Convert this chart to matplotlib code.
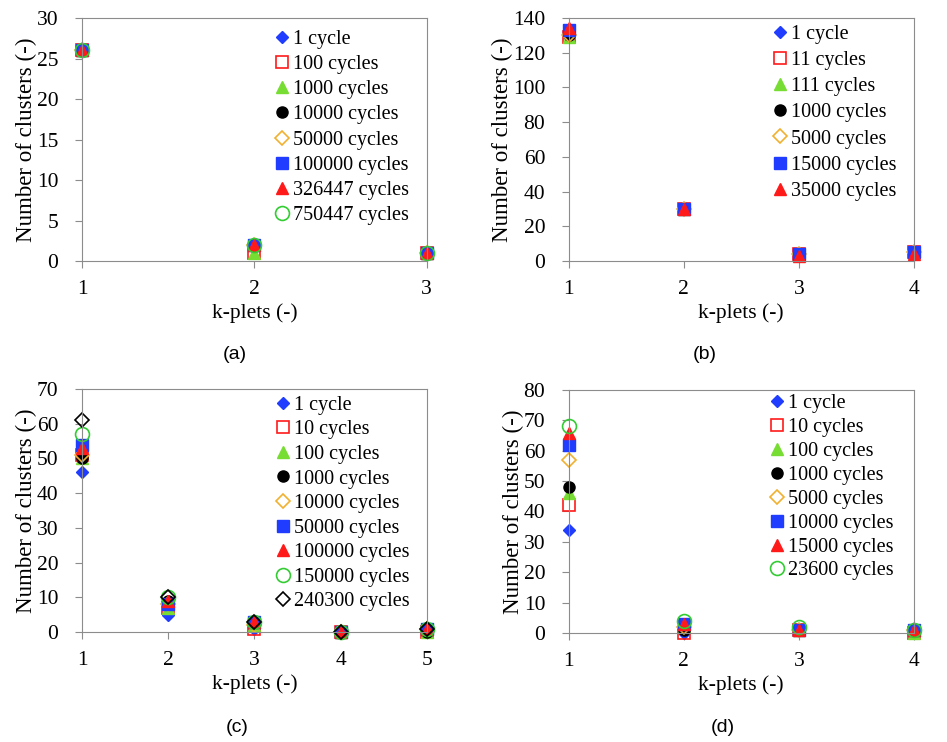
import numpy as np
import matplotlib.pyplot as plt

plt.rcParams['font.family'] = ['Liberation Serif', 'DejaVu Serif']

# marker styles per cycle series (fill colour, edge colour, marker)
BLUE = '#1f3cff'
RED = '#ff1a1a'
LGREEN = '#77dd33'
ORANGE = '#f0b030'
GREEN = '#33cc33'

style_1 = dict(marker='D', color=BLUE, mec=BLUE, ms=6)
style_sq = dict(marker='s', color='none', mec=RED, ms=9, mew=1.2)
style_tri = dict(marker='^', color=LGREEN, mec=LGREEN, ms=8)
style_blk = dict(marker='o', color='black', mec='black', ms=8)
style_od = dict(marker='D', color='none', mec=ORANGE, ms=7, mew=1.2)
style_bsq = dict(marker='s', color=BLUE, mec=BLUE, ms=9)
style_rtri = dict(marker='^', color=RED, mec=RED, ms=8)
style_oc = dict(marker='o', color='none', mec=GREEN, ms=10, mew=1.2)
style_kd = dict(marker='D', color='none', mec='black', ms=7, mew=1.2)

# (a)
k_a = [1, 2, 3]
labels_a = ['1 cycle', '100 cycles', '1000 cycles', '10000 cycles', '50000 cycles',
            '100000 cycles', '326447 cycles', '750447 cycles']
vals_a = [[26, 2, 1], [26, 1, 1], [26, 1, 1], [26, 2, 1], [26, 2, 1],
          [26, 2, 1], [26, 2, 1], [26, 2, 1]]
styles_a = [style_1, style_sq, style_tri, style_blk, style_od, style_bsq, style_rtri, style_oc]

# (b)
k_b = [1, 2, 3, 4]
labels_b = ['1 cycle', '11 cycles', '111 cycles', '1000 cycles', '5000 cycles',
            '15000 cycles', '35000 cycles']
vals_b = [[130, 30, 4, 5], [129, 30, 4, 5], [129, 30, 4, 5], [130, 30, 4, 5],
          [130, 30, 4, 5], [133, 30, 4, 5], [134, 30, 3, 4]]
styles_b = [style_1, style_sq, style_tri, style_blk, style_od, style_bsq, style_rtri]

# (c)
k_c = [1, 2, 3, 4, 5]
labels_c = ['1 cycle', '10 cycles', '100 cycles', '1000 cycles', '10000 cycles',
            '50000 cycles', '100000 cycles', '150000 cycles', '240300 cycles']
vals_c = [[46, 5, 1, 0, 0], [51, 7, 1, 0, 0], [50, 7, 2, 0, 0], [50, 9, 3, 0, 0],
          [51, 8, 2, 0, 1], [54, 8, 3, 0, 1], [53, 9, 3, 0, 1], [57, 10, 3, 0, 1],
          [61, 10, 3, 0, 1]]
styles_c = [style_1, style_sq, style_tri, style_blk, style_od, style_bsq, style_rtri,
            style_oc, style_kd]

# (d)
k_d = [1, 2, 3, 4]
labels_d = ['1 cycle', '10 cycles', '100 cycles', '1000 cycles', '5000 cycles',
            '10000 cycles', '15000 cycles', '23600 cycles']
vals_d = [[34, 0, 1, 1], [42, 0, 1, 0], [46, 2, 1, 0], [48, 1, 1, 1], [57, 2, 1, 1],
          [62, 3, 1, 1], [66, 3, 1, 1], [68, 4, 2, 1]]
styles_d = [style_1, style_sq, style_tri, style_blk, style_od, style_bsq, style_rtri, style_oc]

fig = plt.figure(figsize=(9.47, 7.42), dpi=100)

panels = [
    ([0.0866, 0.6482, 0.364, 0.3275], k_a, vals_a, labels_a, styles_a, 30, 5, (0.557, 0.951), 0.30, '(a)', (0.248, 0.522)),
    ([0.6008, 0.6482, 0.364, 0.3275], k_b, vals_b, labels_b, styles_b, 140, 20, (0.588, 0.972), 0.35, '(b)', (0.744, 0.522)),
    ([0.0866, 0.1482, 0.364, 0.3275], k_c, vals_c, labels_c, styles_c, 70, 10, (0.559, 0.972), 0.27, '(c)', (0.250, 0.019)),
    ([0.6008, 0.1469, 0.364, 0.3275], k_d, vals_d, labels_d, styles_d, 80, 10, (0.580, 0.984), 0.24, '(d)', (0.763, 0.019)),
]

for rect, k, vals, labels, styles, ymax, ystep, leg_pos, lsp, cap, cap_pos in panels:
    ax = fig.add_axes(rect)
    for v, lab, st in zip(vals, labels, styles):
        ax.plot(k, v, linestyle='none', label=lab, clip_on=False, **st)
    ax.set_xlim(k[0], k[-1])
    ax.set_ylim(0, ymax)
    ax.set_xticks(k)
    ax.set_yticks(np.arange(0, ymax + 1, ystep))
    for s in ax.spines.values():
        s.set_color('#8c8c8c')
    ax.tick_params(direction='out', length=5, color='#8c8c8c', labelsize=15.5)
    ax.tick_params(axis='x', pad=9)
    ax.tick_params(axis='y', pad=12)
    ax.set_xlabel('k-plets (-)', fontsize=15.5, labelpad=3)
    ax.set_ylabel('Number of clusters (-)', fontsize=16.5, labelpad=0)
    ax.legend(loc='upper left', bbox_to_anchor=leg_pos, frameon=False, fontsize=14.5,
              borderpad=0, borderaxespad=0, handlelength=0.8, handletextpad=0.15,
              labelspacing=lsp, numpoints=1)
    fig.text(cap_pos[0], cap_pos[1], cap, ha='center', va='center', fontsize=14,
             family=['Liberation Sans', 'DejaVu Sans'])

fig.savefig('out.png', dpi=100)
